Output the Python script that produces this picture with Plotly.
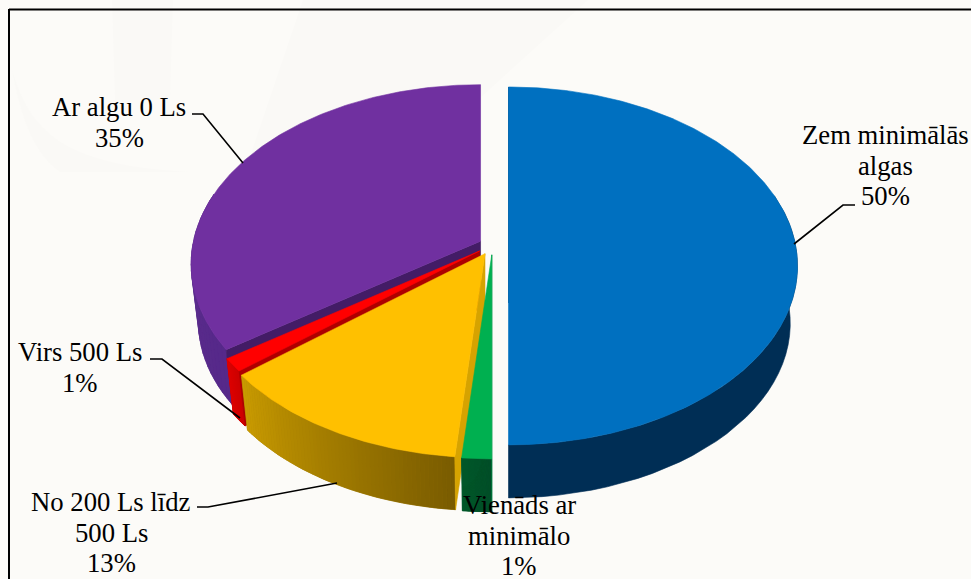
import numpy as np
import plotly.graph_objects as go

# ---- data ----
categories = ["Zem minimālās algas", "Vienāds ar minimālo", "No 200 Ls līdz 500 Ls", "Virs 500 Ls", "Ar algu 0 Ls"]
values = [50, 1.45, 12.7, 1.2, 34.65]
label_lines = [["Zem minimālās", "algas"], ["Vienāds ar", "minimālo"], ["No 200 Ls līdz", "500 Ls"], ["Virs 500 Ls"], ["Ar algu 0 Ls"]]

# ---- styles ----
top_colors = ["#0070C0", "#00B050", "#FFC000", "#FF0000", "#7030A0"]
wall_from = ["#002E55", "#005A2C", "#C99B00", "#DC0000", "#5E2F8E"]
wall_to = ["#002E55", "#00502A", "#7A5C00", "#CC0000", "#56298A"]
cut_colors = ["#002E55", "#00803F", "#D6A300", "#AE0000", "#431C66"]

W, H = 971, 579
BG = "#FCFBF8"
BAND = "#FAF9F6"
CX, CY = 492.5, 245          # pie centre
B, A = 287, 176.5            # projective circle parameters
persp = [0.117, 0.135, 0.135, 0.117, 0.128]
explode = [16, 16, 16, 16, 13.5]
DEPTH, SHRINK = 58, 0.975
draw_order = [4, 3, 2, 1, 0]
label_centres = [(885, 135), (519, 505), (111, 502), (80, 352), (119, 107)]
LINE_H = 30.7
leaders = {0: [(794, 244), (843, 205), (855, 205)],
           2: [(337, 483), (208, 507), (197, 507)],
           3: [(240, 418), (162, 359), (150, 359)],
           4: [(243, 163), (203, 114), (192, 114)]}


def proj(theta, k):
    """theta is clockwise from 12 o'clock, radians."""
    X, Y = np.sin(theta), -np.cos(theta)
    w = 1 - k * Y
    return B * X / w, A * Y / w


def to_rgb(h):
    return np.array([int(h[i:i + 2], 16) for i in (1, 3, 5)], float)


def mix(a, b, t):
    c = to_rgb(a) * (1 - t) + to_rgb(b) * t
    return "rgb(%d,%d,%d)" % tuple(c)


fig = go.Figure()


def poly(xs, ys, color, lw=0.6):
    fig.add_trace(go.Scatter(x=list(xs), y=list(ys), mode="lines", fill="toself", fillcolor=color,
                             line=dict(color=color, width=lw), hoverinfo="skip", showlegend=False))


total = sum(values)
edges = np.concatenate([[0], np.cumsum(values)]) / total * 2 * np.pi

for i in draw_order:
    t0, t1 = edges[i], edges[i + 1]
    k = persp[i]
    mid = (t0 + t1) / 2
    tx = CX + explode[i] * np.sin(mid)
    ty = CY - explode[i] * np.cos(mid) * A / B
    th = np.linspace(t0, t1, max(8, int((t1 - t0) * 90)))
    px, py = proj(th, k)
    # outer wall: one polygon underneath, gradient strips over it
    ws = np.linspace(t0, t1, 60)
    ws = ws[np.cos(ws) < 0.3]
    wx, wy = proj(ws, k)
    poly(np.concatenate([tx + wx, tx + SHRINK * wx[::-1]]),
         np.concatenate([ty + wy, ty + DEPTH + SHRINK * wy[::-1]]),
         mix(wall_from[i], wall_to[i], 0.5))
    if wall_from[i] != wall_to[i]:
        n = len(ws) - 1
        for j in range(n):
            f = 1 - j / max(1, n - 1)
            c = mix(wall_from[i], wall_to[i], f)
            xq = [tx + wx[j], tx + wx[j + 1], tx + SHRINK * wx[j + 1], tx + SHRINK * wx[j], tx + wx[j]]
            yq = [ty + wy[j], ty + wy[j + 1], ty + DEPTH + SHRINK * wy[j + 1], ty + DEPTH + SHRINK * wy[j], ty + wy[j]]
            poly(xq, yq, c, lw=0.5)
    # cut wall on the starting radius
    cx0, cy0 = proj(t0, k)
    poly([tx, tx + cx0, tx + SHRINK * cx0, tx, tx],
         [ty, ty + cy0, ty + DEPTH + SHRINK * cy0, ty + DEPTH, ty], cut_colors[i])
    # top face
    poly(np.concatenate([[tx], tx + px, [tx]]), np.concatenate([[ty], ty + py, [ty]]), top_colors[i])

# leaders
for i, pts in leaders.items():
    fig.add_trace(go.Scatter(x=[p[0] for p in pts], y=[p[1] for p in pts], mode="lines",
                             line=dict(color="black", width=1.6), hoverinfo="skip", showlegend=False))

# labels
annotations = []
for i, lines in enumerate(label_lines):
    x, y = label_centres[i]
    for n_line, txt in enumerate(lines + [f"{round(values[i])}%"]):
        annotations.append(dict(x=x, y=y + n_line * LINE_H, text=txt, showarrow=False, xanchor="center", yanchor="middle",
                                font=dict(family="Liberation Serif", size=26.7, color="#000000")))

bands = ["M 303 0 L 240 186 L 300 150 L 458 118 L 588 0 Z",
         "M 112 0 L 173 0 L 170 100 L 115 100 Z",
         "M 12 70 C 30 130 60 165 190 172 L 60 172 C 30 150 20 110 12 70 Z"]
shapes = [dict(type="path", path=p, fillcolor=BAND, line=dict(width=0), layer="below") for p in bands]
shapes += [dict(type="line", x0=9, x1=9, y0=9, y1=H + 5, line=dict(color="black", width=2), layer="below"),
           dict(type="line", x0=9, x1=W + 5, y0=9.5, y1=9.5, line=dict(color="black", width=2), layer="below")]

fig.update_layout(
    width=W, height=H, margin=dict(l=0, r=0, t=0, b=0),
    paper_bgcolor=BG, plot_bgcolor=BG, showlegend=False,
    xaxis=dict(range=[0, W], visible=False, fixedrange=True),
    yaxis=dict(range=[H, 0], visible=False, fixedrange=True),
    annotations=annotations,
    shapes=shapes,
)
fig.write_html("out.html", config=dict(displayModeBar=False),
               post_script="document.body.style.margin='0';document.body.style.overflow='hidden';document.body.style.background='%s';" % BG)
